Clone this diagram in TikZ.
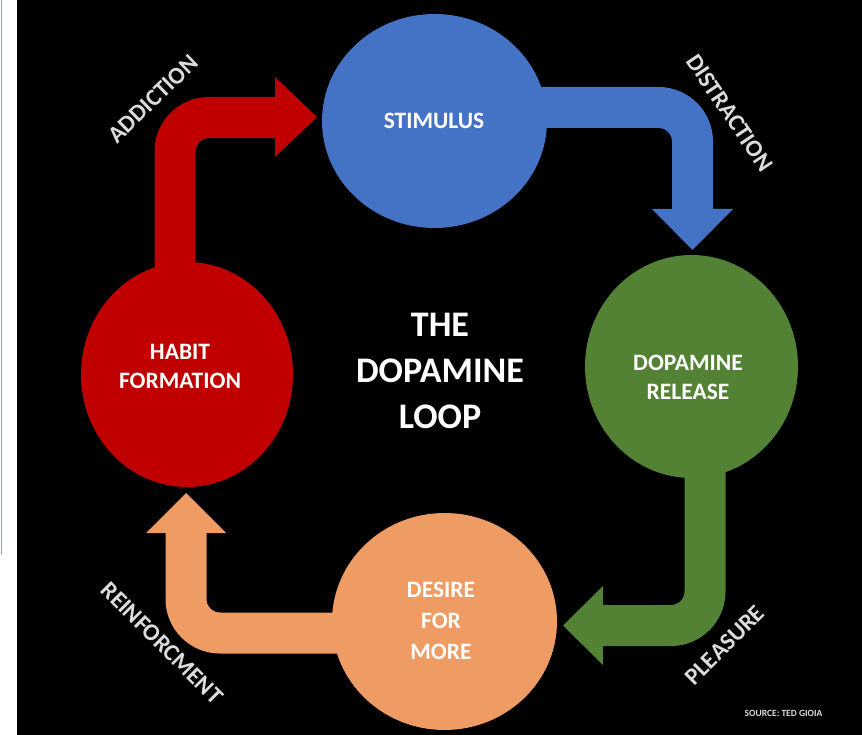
\documentclass[tikz,border=0pt]{standalone}
\usepackage{fontspec}
\setmainfont{Carlito}
\usetikzlibrary{shapes.geometric}
\definecolor{cblue}{HTML}{4472C4}
\definecolor{cgreen}{HTML}{548235}
\definecolor{cred}{HTML}{C00000}
\definecolor{corange}{HTML}{EE9B64}
\definecolor{clabel}{HTML}{DCDCDC}
\definecolor{cedge}{HTML}{9C9CDC}
\begin{document}
\begin{tikzpicture}[x=1pt,y=-1pt,
  blob/.style={ellipse, inner sep=0pt, draw=none},
  shaft/.style={line width=41pt, line cap=butt, rounded corners=34pt},
  intext/.style={text=white, font=\bfseries\fontsize{23.5}{29}\selectfont, align=center},
  sidelabel/.style={text=clabel, font=\bfseries\fontsize{24}{28}\selectfont}]
\useasboundingbox (0,0) rectangle (862,735);
\fill[white] (0,0) rectangle (862,735);
\fill[black] (17,0) rectangle (862,735);
\draw[cedge, line width=1.5pt] (1.5,0) -- (1.5,555);

% arrow geometry
\coordinate (redstart) at (175,380);
\coordinate (redend) at (277,117.5);
\coordinate (bluestart) at (440,107.5);
\coordinate (blueend) at (692.5,211);
\coordinate (greenstart) at (705,370);
\coordinate (greenend) at (601,625.5);
\coordinate (orangestart) at (444,633);
\coordinate (orangeend) at (186,531);

% shafts
\draw[shaft, cred] (redstart) |- (redend);
\draw[shaft, cblue] (bluestart) -| (blueend);
\draw[shaft, cgreen] (greenstart) |- (greenend);
\draw[shaft, corange] (orangestart) -| (orangeend);

% heads
\fill[cred] (275,77) -- (317,117) -- (275,157) -- cycle;
\fill[cblue] (652,209) -- (692.5,250) -- (733,209) -- cycle;
\fill[cgreen] (603,586) -- (563,625.5) -- (603,665) -- cycle;
\fill[corange] (146,533) -- (186,493) -- (226,533) -- cycle;

% circles
\node[blob, fill=cblue, minimum width=225pt, minimum height=214pt] (stimulus) at (434.5,121) {};
\node[blob, fill=cgreen, minimum width=213pt, minimum height=223pt] (dopamine) at (691.5,366.5) {};
\node[blob, fill=cred, minimum width=212pt, minimum height=225pt] (habit) at (187,374.5) {};
\node[blob, fill=corange, minimum width=225pt, minimum height=217pt] (desire) at (444.5,621.5) {};

% circle texts
\node[intext] (stimulustext) at (434,121) {STIMULUS};
\node[intext] (dopaminetext) at (688,377) {DOPAMINE\\RELEASE};
\node[intext] (habittext) at (180,366) {HABIT\\FORMATION};
\node[intext, font=\bfseries\fontsize{23.5}{31}\selectfont] (desiretext) at (441,621) {DESIRE\\FOR\\MORE};

% title
\node[text=white, font=\bfseries\fontsize{36}{46}\selectfont, align=center] (title) at (440,371) {THE\\DOPAMINE\\LOOP};

% side labels
\node[sidelabel, rotate=44] (addiction) at (153,99) {ADDICTION};
\node[sidelabel, rotate=-56] (distraction) at (730,113) {DISTRACTION};
\node[sidelabel, rotate=45] (pleasure) at (725,645) {PLEASURE};
\node[sidelabel, rotate=-45] (reinforcment) at (162,643) {REINFORCMENT};

% source
\node[text=clabel, font=\bfseries\fontsize{9.5}{11}\selectfont] (source) at (783.5,713) {SOURCE: TED GIOIA};
\end{tikzpicture}
\end{document}
